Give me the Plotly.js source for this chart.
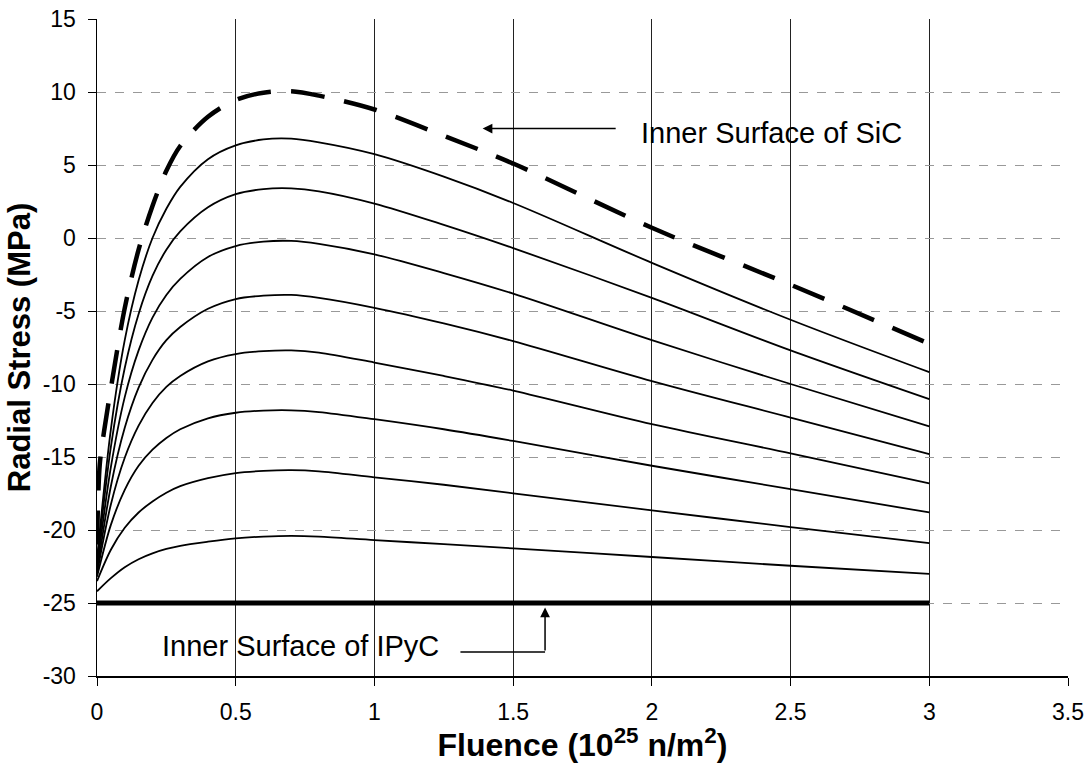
<!DOCTYPE html>
<html>
<head>
<meta charset="utf-8">
<script src="https://cdn.plot.ly/plotly-3.0.1.min.js"></script>
<style>html,body{margin:0;padding:0;background:#fff;}#chart{width:1091px;height:763px;}</style>
</head>
<body>
<div id="chart"></div>
<script>
// Fluence values (10^25 n/m^2)
var fluence = [0, 0.05, 0.1, 0.15, 0.2, 0.25, 0.3, 0.4, 0.5, 0.6, 0.7, 0.8, 1, 1.25, 1.5, 2, 2.5, 3];
var fluenceSiC = [0, 0.01, 0.025, 0.05, 0.1, 0.15, 0.2, 0.25, 0.3, 0.4, 0.5, 0.6, 0.7, 0.8, 1, 1.25, 1.5, 2, 2.5, 3];
var fluenceIPyC = [0, 3];

// Radial stress (MPa)
var stressSiC = [-21, -15.5, -13.3, -10.3, -4.8, -0.8, 2.2, 4.6, 6.3, 8.3, 9.45, 9.95, 10.05, 9.75, 8.8, 7.0, 5.1, 0.7, -3.2, -7.24];
var stress1 = [-22, -13.1, -7.0, -2.9, 0.0, 2.0, 3.5, 5.4, 6.35, 6.75, 6.8, 6.55, 5.74, 4.2, 2.4, -1.7, -5.6, -9.19];
var stress2 = [-22.3, -14.3, -8.9, -5.2, -2.6, -0.8, 0.45, 2.1, 3.0, 3.35, 3.4, 3.2, 2.36, 0.9, -0.69, -4.1, -7.7, -11.04];
var stress3 = [-22.6, -15.7, -10.9, -7.7, -5.45, -3.9, -2.8, -1.3, -0.55, -0.25, -0.2, -0.4, -1.12, -2.4, -3.81, -7.0, -10.0, -12.9];
var stress4 = [-22.9, -17.0, -13.0, -10.25, -8.35, -7.0, -6.1, -4.85, -4.18, -3.95, -3.9, -4.1, -4.78, -5.85, -7.06, -9.8, -12.3, -14.8];
var stress5 = [-23.0, -18.25, -15.05, -12.85, -11.3, -10.2, -9.45, -8.45, -7.95, -7.75, -7.7, -7.85, -8.53, -9.45, -10.45, -12.75, -14.75, -16.8];
var stress6 = [-23.2, -19.65, -17.25, -15.6, -14.5, -13.7, -13.1, -12.35, -11.97, -11.82, -11.8, -11.92, -12.41, -13.1, -13.9, -15.6, -17.2, -18.8];
var stress7 = [-23.5, -21.35, -19.85, -18.8, -18.05, -17.45, -17.0, -16.45, -16.1, -15.95, -15.9, -15.98, -16.39, -16.9, -17.49, -18.65, -19.8, -20.9];
var stress8 = [-24.2, -23.3, -22.55, -22.0, -21.6, -21.3, -21.08, -20.8, -20.57, -20.45, -20.4, -20.45, -20.69, -20.97, -21.26, -21.85, -22.45, -23.0];
var stressIPyC = [-25, -25];

// Tick labels
var xTickVals = [0, 0.5, 1, 1.5, 2, 2.5, 3, 3.5];
var xTickLabels = ['0', '0.5', '1', '1.5', '2', '2.5', '3', '3.5'];
var yTickVals = [15, 10, 5, 0, -5, -10, -15, -20, -25, -30];
var yTickLabels = ['15', '10', '5', '0', '-5', '-10', '-15', '-20', '-25', '-30'];

var solidSeries = [stress1, stress2, stress3, stress4, stress5, stress6, stress7, stress8];

var traces = [];
solidSeries.forEach(function (s, i) {
  traces.push({
    x: fluence, y: s, type: 'scatter', mode: 'lines', name: 'r' + (i + 1),
    line: {color: '#000', width: 1.8, shape: 'spline', smoothing: 0.9},
    showlegend: false, hoverinfo: 'skip'
  });
});
traces.push({
  x: fluenceSiC, y: stressSiC, type: 'scatter', mode: 'lines', name: 'Inner Surface of SiC',
  line: {color: '#000', width: 4.5, dash: '34px,20px', shape: 'spline', smoothing: 0.9},
  showlegend: false, hoverinfo: 'skip'
});
traces.push({
  x: fluenceIPyC, y: stressIPyC, type: 'scatter', mode: 'lines', name: 'Inner Surface of IPyC',
  line: {color: '#000', width: 5},
  showlegend: false, hoverinfo: 'skip'
});

var FONT = 'Liberation Sans, Arial, Helvetica, sans-serif';

var layout = {
  width: 1091, height: 763,
  margin: {l: 97, r: 23, t: 19, b: 87},
  paper_bgcolor: '#fff', plot_bgcolor: '#fff',
  font: {family: FONT, color: '#000'},
  showlegend: false,
  xaxis: {
    range: [0, 3.5], tickmode: 'array', tickvals: xTickVals, ticktext: xTickLabels,
    ticks: 'outside', ticklen: 8, tickcolor: '#000', tickwidth: 1,
    showgrid: true, gridcolor: '#222', gridwidth: 1,
    showline: true, linecolor: '#000', linewidth: 1.5,
    zeroline: false,
    tickfont: {size: 23, family: FONT, color: '#000'},
    ticklabelstandoff: 7,
    title: {text: '<b>Fluence (10<sup>25</sup> n/m<sup>2</sup>)</b>', font: {size: 32, family: FONT, color: '#000'}, standoff: 5}
  },
  yaxis: {
    range: [-30, 15], tickmode: 'array', tickvals: yTickVals, ticktext: yTickLabels,
    ticks: 'outside', ticklen: 8, tickcolor: '#000', tickwidth: 1,
    showgrid: true, gridcolor: '#999', gridwidth: 1, griddash: 'dash',
    showline: true, linecolor: '#000', linewidth: 1.5,
    zeroline: false,
    tickfont: {size: 23, family: FONT, color: '#000'},
    ticklabelstandoff: 7,
    title: {text: '<b>Radial Stress (MPa)</b>', font: {size: 31, family: FONT, color: '#000'}, standoff: 3}
  },
  shapes: [
    {type: 'line', xref: 'x', yref: 'y', x0: 1.31, x1: 1.615, y0: -28.35, y1: -28.35,
     line: {color: '#000', width: 1.5}}
  ],
  annotations: [
    {x: 1.955, y: 7.18, xref: 'x', yref: 'y', text: 'Inner Surface of SiC', showarrow: false,
     xanchor: 'left', yanchor: 'middle', font: {size: 29, family: FONT, color: '#000'}},
    {x: 1.39, y: 7.5, ax: 1.875, ay: 7.5, xref: 'x', yref: 'y', axref: 'x', ayref: 'y',
     text: '', showarrow: true, arrowhead: 2, arrowsize: 1.3, arrowwidth: 1.5, arrowcolor: '#000'},
    {x: 0.228, y: -27.97, xref: 'x', yref: 'y', text: 'Inner Surface of IPyC', showarrow: false,
     xanchor: 'left', yanchor: 'middle', font: {size: 29, family: FONT, color: '#000'}},
    {x: 1.615, y: -25.3, ax: 1.615, ay: -28.35, xref: 'x', yref: 'y', axref: 'x', ayref: 'y',
     text: '', showarrow: true, arrowhead: 2, arrowsize: 1.3, arrowwidth: 1.5, arrowcolor: '#000'}
  ]
};

Plotly.newPlot('chart', traces, layout, {displayModeBar: false, staticPlot: true});
</script>
</body>
</html>
